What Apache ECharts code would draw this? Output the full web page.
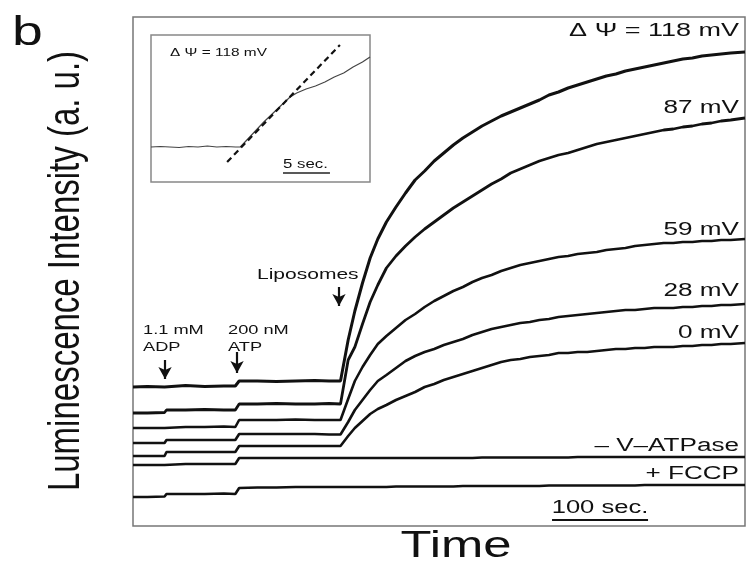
<!DOCTYPE html>
<html>
<head>
<meta charset="utf-8">
<script src="https://cdn.jsdelivr.net/npm/echarts@6/dist/echarts.min.js"></script>
<style>
  html, body { margin: 0; padding: 0; background: #fff; }
  #chart { width: 747px; height: 565px; }
</style>
</head>
<body>
<div id="chart"></div>
<script>
// time in seconds, luminescence in a.u.
var timeSec = [0, 15, 33, 35, 55, 75, 95, 107, 111, 130, 150, 170, 190, 205, 217,
    225, 232, 240, 248, 256, 265, 275, 285, 295,
    305, 315, 325, 335, 345, 355, 365, 375, 385, 395, 405, 415, 425, 435, 445, 455, 465,
    475, 485, 495, 505, 515, 525, 535, 545, 555, 565, 575, 585, 595, 605, 615, 625, 640];

var psi118 = [139, 139.5, 139, 140, 140.5, 139.5, 140, 140, 145, 145, 144.5, 145, 145.5, 145, 145,
    186, 215, 243, 268, 287, 304, 319, 333, 346,
    355, 365, 373, 381, 388, 394, 400, 405, 410, 414, 418, 422, 426, 431, 434, 438, 441,
    444, 447, 450, 452, 455, 457, 459, 461, 463, 465, 467, 468, 470, 471, 472, 473, 474];

var psi87 = [113, 113, 113.5, 116, 116, 116.5, 116, 116, 122, 122, 122.5, 122, 122, 122.5, 122,
    166, 179, 202, 224, 241, 258, 270, 280, 289,
    297, 304, 311, 318, 324, 330, 336, 342, 347, 353, 357, 361, 365, 368, 371, 373, 376,
    379, 382, 384, 386, 388, 390, 392, 394, 396, 397, 399, 400, 402, 403, 405, 406, 408];

var psi59 = [98, 98, 98, 99, 99, 99, 99.5, 99, 106, 106, 106, 106.5, 106, 106, 106,
    127, 145, 159, 171, 182, 190, 198, 206, 212,
    219, 225, 230, 235, 239, 244, 248, 251, 255, 258, 261, 263, 265, 267, 269, 270, 272,
    273, 274, 276, 277, 278, 280, 281, 282, 283, 283, 284, 284, 285, 285, 286, 286, 287];

var psi28 = [83, 83, 83, 86, 86, 86, 86, 86, 92, 92, 92, 92, 92, 91.5, 91.5,
    104, 116, 126, 136, 145, 151, 158, 165, 170,
    174, 177, 181, 184, 187, 191, 194, 197, 199, 201, 203, 204, 206, 207, 209, 210, 211,
    212, 213, 214, 215, 216, 216, 217, 218, 218, 218, 219, 219, 220, 220, 221, 221, 222];

var psi0 = [70, 70, 70, 74, 74, 74, 74, 74, 80, 80, 80, 80, 80, 80, 80,
    90, 98, 105, 112, 117, 121, 126, 130, 134,
    139, 142, 146, 149, 152, 155, 158, 161, 164, 166, 167, 169, 170, 171, 173, 173, 174,
    174, 175, 176, 177, 177, 178, 178, 179, 179, 179, 180, 180, 181, 181, 182, 182, 183];

var noVATPase = [61, 61, 61, 62, 62, 62, 62, 62, 68, 68, 68, 68, 68, 68, 68,
    68, 68, 68, 68, 68, 68, 68, 68, 68,
    68, 68, 68, 68, 68, 68, 68.5, 68.5, 68.5, 68.5, 68.5, 68.5, 68.5, 68.5, 68.5, 68.5, 69,
    69, 69, 69, 69, 69, 69, 69, 69, 69, 69, 69, 69, 69, 69, 69, 69, 69];

var plusFCCP = [29, 29, 29.5, 32, 32, 32, 32.5, 32, 38, 38.5, 38.5, 39, 39, 39, 39,
    39, 39, 39, 39, 39, 39, 39.5, 39.5, 39.5,
    39.5, 39.5, 39.5, 39.5, 40, 40, 40, 40, 40, 40, 40, 40, 40, 40.5, 40.5, 40.5, 40.5,
    40.5, 40.5, 40.5, 40.5, 40.5, 40.5, 41, 41, 41, 41, 41, 41, 41, 41, 41, 41, 41];

// additions: [time, top of arrow, tip of arrow]
var additionArrows = [[33.5, 166, 147], [108.8, 174, 153], [215.4, 239, 220]];
var scaleBarMain = [[438.2, 6], [538.6, 6]];

// inset: first seconds after liposome addition (118 mV)
var insetTime = [0, 1, 2, 3, 4, 5, 6, 7, 8, 9, 9.5, 10, 11, 12, 13, 14, 14.8,
    15.5, 16.5, 17.5, 18.5, 19.5, 20.5, 21.5, 22.5, 23.3];
var insetSignal = [35, 35.5, 35, 34.5, 35.5, 35, 36, 35, 35.5, 35, 35, 40, 50, 60, 69, 78, 85,
    89, 93, 96, 100, 105, 109, 115, 120, 125];
var insetFitTime = [8.1, 20.1];
var insetFitValue = [20, 137];
var scaleBarInset = [[14.04, 9], [19.04, 9]];

var FONT = '"Liberation Sans", Arial, sans-serif';

function zip(xs, ys) {
    return xs.map(function (x, i) { return [x, ys[i]]; });
}

function trace(name, values, width) {
    return {
        name: name,
        type: 'line',
        xAxisIndex: 0,
        yAxisIndex: 0,
        showSymbol: false,
        silent: true,
        lineStyle: { color: '#111', width: width || 2.6 },
        data: zip(timeSec, values)
    };
}

function label(text, x, y, size, align, sx, extra) {
    var el = {
        type: 'text',
        x: x,
        y: y,
        scaleX: sx,
        silent: true,
        style: {
            text: text,
            font: size + 'px ' + FONT,
            fill: '#111',
            textAlign: align,
            align: align,
            textVerticalAlign: 'middle',
            verticalAlign: 'middle'
        }
    };
    if (extra) {
        for (var k in extra) { el[k] = extra[k]; }
    }
    return el;
}

var chart = echarts.init(document.getElementById('chart'), null, { renderer: 'canvas' });

var option = {
    backgroundColor: '#fff',
    animation: false,
    grid: [
        { left: 133, top: 17, width: 612, height: 509, show: true, borderColor: '#777', borderWidth: 1.5, backgroundColor: 'transparent' },
        { left: 151, top: 35, width: 219, height: 147, show: true, borderColor: '#888', borderWidth: 1.5, backgroundColor: '#fff', z: 5 }
    ],
    xAxis: [
        { type: 'value', gridIndex: 0, min: 0, max: 640, show: false },
        { type: 'value', gridIndex: 1, min: 0, max: 23.3, show: false }
    ],
    yAxis: [
        { type: 'value', gridIndex: 0, min: 0, max: 509, show: false },
        { type: 'value', gridIndex: 1, min: 0, max: 147, show: false }
    ],
    series: [
        trace('118 mV', psi118, 3),
        trace('87 mV', psi87, 2.8),
        trace('59 mV', psi59),
        trace('28 mV', psi28),
        trace('0 mV', psi0),
        trace('- V-ATPase', noVATPase),
        trace('+ FCCP', plusFCCP),
        {
            name: 'scale 100 s',
            type: 'line',
            showSymbol: false,
            silent: true,
            lineStyle: { color: '#111', width: 2 },
            data: scaleBarMain,
            markLine: {
                silent: true,
                animation: false,
                symbol: ['none', 'arrow'],
                symbolSize: [10, 12],
                label: { show: false },
                lineStyle: { color: '#111', width: 2.2, type: 'solid' },
                data: additionArrows.map(function (a) {
                    return [{ coord: [a[0], a[1]] }, { coord: [a[0], a[2]] }];
                })
            }
        },
        {
            name: 'inset trace',
            type: 'line',
            xAxisIndex: 1,
            yAxisIndex: 1,
            showSymbol: false,
            silent: true,
            z: 6,
            lineStyle: { color: '#444', width: 1.2 },
            data: zip(insetTime, insetSignal)
        },
        {
            name: 'inset fit',
            type: 'line',
            xAxisIndex: 1,
            yAxisIndex: 1,
            showSymbol: false,
            silent: true,
            z: 7,
            lineStyle: { color: '#111', width: 2.2, type: [6, 4] },
            data: zip(insetFitTime, insetFitValue)
        },
        {
            name: 'scale 5 s',
            type: 'line',
            xAxisIndex: 1,
            yAxisIndex: 1,
            showSymbol: false,
            silent: true,
            z: 7,
            lineStyle: { color: '#222', width: 1.6 },
            data: scaleBarInset
        }
    ],
    graphic: [
        label('b', 12, 34, 41, 'left', 1.35),
        label('Luminescence Intensity (a. u.)', 67, 271, 33, 'center', 1,
            { rotation: Math.PI / 2, scaleY: 1.35 }),
        label('Time', 456, 547, 36, 'center', 1.41),
        label('Δ Ψ = 118 mV', 739, 31, 18, 'right', 1.5),
        label('87 mV', 739, 108, 18, 'right', 1.45),
        label('59 mV', 739, 230, 18, 'right', 1.45),
        label('28 mV', 739, 291, 18, 'right', 1.45),
        label('0 mV', 739, 333, 18, 'right', 1.45),
        label('– V–ATPase', 739, 446, 18, 'right', 1.45),
        label('+ FCCP', 739, 474, 18, 'right', 1.45),
        label('100 sec.', 600, 508, 18, 'center', 1.42),
        label('1.1 mM', 143, 330, 13.5, 'left', 1.35),
        label('ADP', 143, 347, 13.5, 'left', 1.35),
        label('200 nM', 228, 330, 13.5, 'left', 1.35),
        label('ATP', 228, 347, 13.5, 'left', 1.35),
        label('Liposomes', 257, 275, 15, 'left', 1.4),
        label('Δ Ψ = 118 mV', 170, 53, 11, 'left', 1.4, { z: 10 }),
        label('5 sec.', 283, 165, 12, 'left', 1.4, { z: 10 })
    ]
};

chart.setOption(option);
</script>
</body>
</html>
